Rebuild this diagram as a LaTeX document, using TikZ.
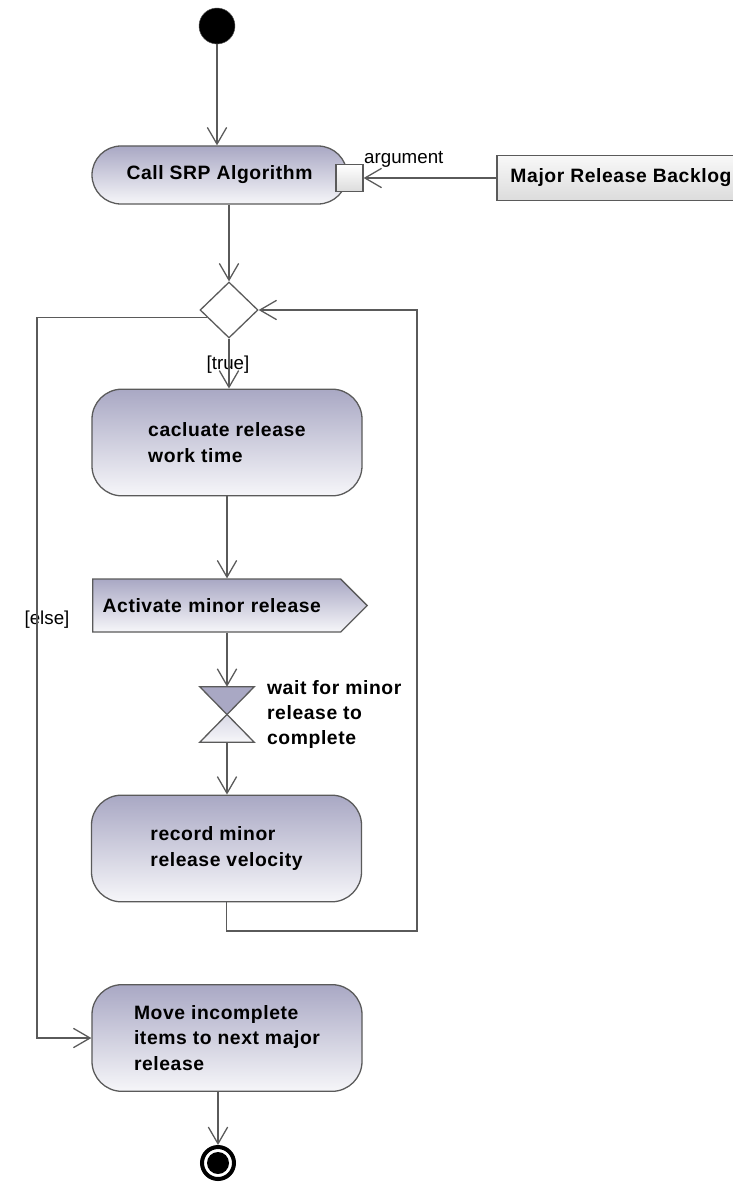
\documentclass[tikz,border=0pt]{standalone}
\usepackage{fontspec}
\setmainfont{Liberation Sans}
\newfontfamily\spacedsans[LetterSpace=3]{Liberation Sans}
\usetikzlibrary{arrows.meta,shapes.geometric,shapes.symbols}
\definecolor{umlline}{HTML}{5A5A5A}
\definecolor{umltop}{HTML}{A9A8C4}
\definecolor{umlbottom}{HTML}{F6F6F9}
\definecolor{objtop}{HTML}{F8F8F8}
\definecolor{objbottom}{HTML}{DCDCDC}
\definecolor{waitlow}{HTML}{D9D9E6}
\newcommand{\boxfont}{\spacedsans\bfseries\fontsize{16.5}{21.5}\selectfont}
\tikzset{
  action/.style={draw=umlline, line width=1.1pt, rounded corners=0.9cm, top color=umltop, bottom color=umlbottom,
    minimum width=8.1cm, minimum height=3.2cm, align=left, font=\boxfont},
  signalbox/.style={signal, signal to=east, signal pointer angle=90, draw=umlline, line width=1.1pt,
    top color=umltop, bottom color=umlbottom, text width=6.84cm, inner xsep=0.3cm, minimum height=1.59cm,
    align=left, font=\boxfont},
  object/.style={draw=umlline, line width=1.1pt, top color=objtop, bottom color=objbottom,
    minimum width=7.44cm, minimum height=1.35cm, font=\boxfont},
  pinbox/.style={draw=umlline, line width=1.1pt, top color=white, bottom color=objbottom, minimum size=0.81cm, inner sep=0},
  decision/.style={diamond, draw=umlline, line width=1.1pt, fill=white, minimum width=1.74cm, minimum height=1.68cm, inner sep=0},
  initial/.style={circle, fill=black, draw=umlline, minimum size=1.08cm, inner sep=0},
  final/.style={circle, draw=black, line width=0.12cm, fill=white, minimum size=0.96cm, inner sep=0,
    path picture={\fill[black] (path picture bounding box.center) circle (0.33cm);}},
  waitbox/.style={minimum width=1.62cm, minimum height=1.65cm, inner sep=0},
  guard/.style={font=\fontsize{16}{19}\selectfont},
  flow/.style={draw=umlline, line width=1.1pt, -{Straight Barb[length=5mm,width=5.8mm]}},
}
\begin{document}
\begin{tikzpicture}[x=0.03cm, y=-0.03cm]
\useasboundingbox (0,0) rectangle (733,1182);
\clip (0,0) rectangle (733,1182);

\node[initial] (start) at (217,26) {};
\node[action, minimum width=7.65cm, minimum height=1.74cm, rounded corners=0.87cm, align=center] (callsrp) at (219.5,175) {Call SRP Algorithm};
\node[pinbox] (pin) at (349.5,178) {};
\node[guard, anchor=base west, inner sep=0] (pinlabel) at (364,164) {argument};
\node[object] (backlog) at (621,178) {Major Release Backlog};

\node[decision] (decision) at (229,310) {};
\node[guard] (truelabel) at (228,365) {[true]};
\node[action] (calc) at (227,442.5) {cacluate release\\work time};
\node[signalbox, anchor=west] (activate) at (92,605.5) {Activate minor release};
\node[waitbox] (wait) at (227,714.5) {};
\node[anchor=west, align=left, font=\boxfont] (waitlabel) at (263,714.5) {wait for minor\\release to\\complete};
\node[action] (record) at (226.5,848.5) {record minor\\release velocity};
\node[action] (move) at (227,1038) {Move incomplete\\items to next major\\release};
\node[final] (final) at (218,1163) {};

\coordinate (loopcorner) at (417,931);
\coordinate (elsebend) at (37,620);
\node[guard] (elselabel) at (47,620) {[else]};

\filldraw[draw=umlline, line width=1.1pt, fill=umltop] (wait.north west) -- (wait.north east) -- (wait.center) -- cycle;
\filldraw[draw=umlline, line width=1.1pt, top color=waitlow, bottom color=umlbottom] (wait.south west) -- (wait.south east) -- (wait.center) -- cycle;

\draw[flow] (start) -- (start |- callsrp.north);
\draw[flow] (backlog.west |- pin.east) -- (pin.east);
\draw[flow] (callsrp.south -| decision.north) -- (decision.north);
\draw[flow] (decision.south) -- (decision.south |- calc.north);
\draw[flow] (calc.south) -- (calc.south |- activate.north);
\draw[flow] (calc.south |- activate.south) -- (wait.north);
\draw[flow] (wait.south) -- (wait.south |- record.north);
\draw[flow] (record.south) |- (loopcorner) |- (decision.east);
\draw[flow] (decision.200) -| (elsebend) |- (move.west);
\draw[flow] (move.south -| final.north) -- (final.north);
\end{tikzpicture}
\end{document}
